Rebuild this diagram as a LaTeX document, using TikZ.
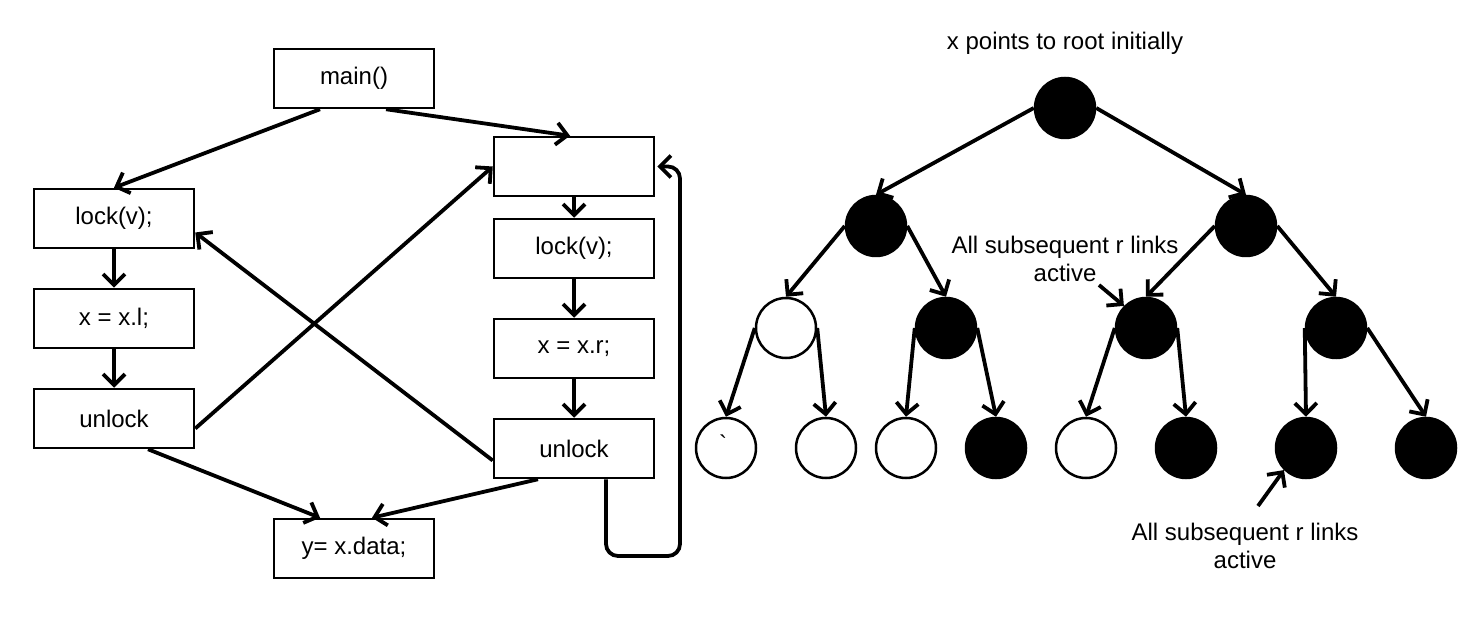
\documentclass[tikz,border=0pt]{standalone}
\usepackage{fontspec}
\setmainfont{Liberation Sans}
\newfontfamily\rawfont{Liberation Sans}
\usetikzlibrary{arrows.meta,calc}
\begin{document}
\begin{tikzpicture}[x=1pt,y=-1pt,
  every node/.style={font=\fontsize{24}{28}\selectfont},
  box/.style={draw,line width=2.5pt,minimum width=160pt,minimum height=59pt,inner sep=0pt},
  wnode/.style={draw,circle,line width=2.5pt,minimum size=60pt,inner sep=0pt,fill=white},
  bnode/.style={draw,circle,line width=2.5pt,minimum size=60pt,inner sep=0pt,fill=black},
  arr/.style={line width=3.8pt,-{Straight Barb[length=11pt,width=22pt]}},
  lbl/.style={align=center,inner sep=0pt}]
\useasboundingbox (0,0) rectangle (1478,617);
% left program
\node[box] (main) at (354,78.5) {main()};
\node[box] (lockL) at (114,218.5) {lock(v);};
\node[box] (xl) at (114,318.5) {x = x.l;};
\node[box] (unlockL) at (114,418.5) {unlock};
\node[box] (ydata) at (354,548.5) {y= x.data;};
\node[box] (empty) at (574,166.5) {};
\node[box] (lockR) at (574,248.5) {lock(v);};
\node[box] (xr) at (574,348.5) {x = x.r;};
\node[box] (unlockR) at (574,448.5) {unlock};
\draw[arr] ($(main.south)+(-34,0)$) -- (lockL.north);
\draw[arr] ($(main.south)+(32,0)$) -- ($(empty.north)+(-4,0)$);
\draw[arr] (lockL.south) -- (xl.north);
\draw[arr] (xl.south) -- (unlockL.north);
\draw[arr] ($(unlockL.east)+(0,10)$) -- (empty.west);
\draw[arr] ($(unlockR.west)+(0,12)$) -- ($(lockL.east)+(0,14)$);
\draw[arr] ($(unlockL.south)+(34,0)$) -- ($(ydata.north)+(-34,0)$);
\draw[arr] ($(unlockR.south)+(-36,0)$) -- ($(ydata.north)+(18,0)$);
\draw[arr] (empty.south) -- (lockR.north);
\draw[arr] (lockR.south) -- (xr.north);
\draw[arr] (xr.south) -- (unlockR.north);
\draw[arr,rounded corners=12pt] ($(unlockR.south)+(32,0)$) |- (680,556) -- (680,166.5) -- ($(empty.east)+(2,0)$);
% tree
\node[lbl] (top) at (1065,43) {x points to root initially};
\node[bnode] (r) at (1065,108) {};
\node[bnode] (a) at (876,226) {};
\node[bnode] (b) at (1246,226) {};
\node[wnode] (aa) at (786,328) {};
\node[bnode] (ab) at (946,328) {};
\node[bnode] (ba) at (1146,328) {};
\node[bnode] (bb) at (1336,328) {};
\node[wnode] (l1) at (726,448) {};
\node[wnode] (l2) at (826,448) {};
\node[wnode] (l3) at (906,448) {};
\node[bnode] (l4) at (996,448) {};
\node[wnode] (l5) at (1086,448) {};
\node[bnode] (l6) at (1186,448) {};
\node[bnode] (l7) at (1306,448) {};
\node[bnode] (l8) at (1426,448) {};
\node[inner sep=0pt,font=\rawfont\fontsize{24}{28}\selectfont] (tick) at (723,444) {`};
\draw[arr] (r.west) -- (a.north);
\draw[arr] (r.east) -- (b.north);
\draw[arr] (a.west) -- (aa.north);
\draw[arr] (a.east) -- (ab.north);
\draw[arr] (b.west) -- (ba.north);
\draw[arr] (b.east) -- (bb.north);
\draw[arr] (aa.west) -- (l1.north);
\draw[arr] (aa.east) -- (l2.north);
\draw[arr] (ab.west) -- (l3.north);
\draw[arr] (ab.east) -- (l4.north);
\draw[arr] (ba.west) -- (l5.north);
\draw[arr] (ba.east) -- (l6.north);
\draw[arr] (bb.west) -- (l7.north);
\draw[arr] (bb.east) -- (l8.north);
\node[lbl] (n1) at (1065,259) {All subsequent r links\\active};
\node[lbl] (n2) at (1245,546) {All subsequent r links\\active};
\coordinate (c1) at (1099,285);
\coordinate (c2) at (1258,506);
\draw[arr] (c1) -- (ba.135);
\draw[arr] (c2) -- (l7.225);
\end{tikzpicture}
\end{document}
